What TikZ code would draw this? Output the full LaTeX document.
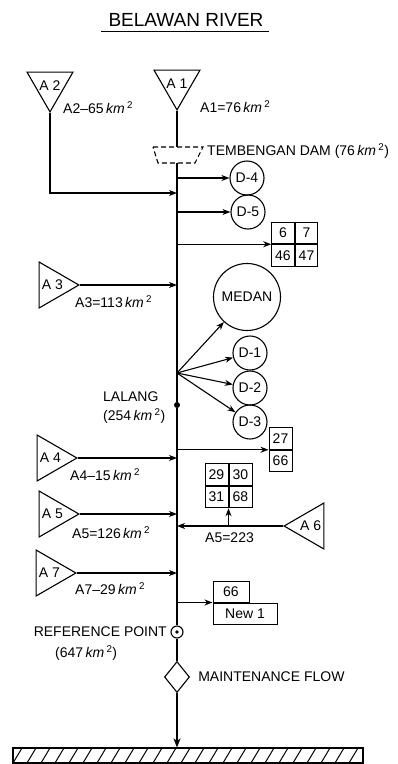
\documentclass[tikz,border=0pt]{standalone}
\usepackage{fontspec}
\setmainfont{Liberation Sans}
\usetikzlibrary{shapes.geometric, arrows.meta, positioning, calc}

\newcommand{\kmsq}{\textit{km}\,\textsuperscript{2}}

\begin{document}
\begin{tikzpicture}[
    x=1pt, y=-1pt,
    font=\fontsize{14}{16}\selectfont,
    node distance=0pt,
    basin/.style={draw=black, line width=1.1pt, regular polygon, regular polygon sides=3,
                  minimum size=53pt, inner sep=0pt, label={center:#1}},
    dnode/.style={draw=black, line width=1.1pt, circle, minimum size=34pt, inner sep=0pt},
    cell/.style={draw=black, line width=1pt, minimum width=22.5pt, minimum height=21.5pt,
                 inner sep=0pt},
    lbl/.style={inner sep=0pt, anchor=west},
    arr/.style={-{Stealth[length=8pt, width=6pt, inset=2.5pt]}, line width=1.1pt, black},
    river/.style={line width=1.8pt, black}
]
\useasboundingbox (0,0) rectangle (397,764);

% Titre
\node[inner sep=0pt, anchor=base, font=\fontsize{19}{21}\selectfont] (title) at (186,26) {BELAWAN RIVER};
\draw[line width=1pt] ([xshift=-7pt,yshift=-5pt]title.base west) -- ([xshift=5pt,yshift=-5pt]title.base east);

% Bassins versants
\node[basin=A 1, regular polygon rotate=180, anchor=corner 1] (a1) at (177,111) {};
\node[basin=A 2, regular polygon rotate=180, anchor=corner 1] (a2) at (50,113) {};
\node[basin=A 3, regular polygon rotate=-90, anchor=corner 1] (a3) at (80,285) {};
\node[basin=A 4, regular polygon rotate=-90, anchor=corner 1] (a4) at (78,458) {};
\node[basin=A 5, regular polygon rotate=-90, anchor=corner 1] (a5) at (80,514) {};
\node[basin=A 6, regular polygon rotate=90,  anchor=corner 1] (a6) at (283,526) {};
\node[basin=A 7, regular polygon rotate=-90, anchor=corner 1] (a7) at (77,573) {};

\node[lbl] at (200,107) {A1=76\,\kmsq};
\node[lbl] at (63,108)  {A2--65\,\kmsq};
\node[lbl] at (75,302)  {A3=113\,\kmsq};
\node[lbl] at (70,475)  {A4--15\,\kmsq};
\node[lbl] at (72,533)  {A5=126\,\kmsq};
\node[lbl] at (205,538) {A5=223};
\node[lbl] at (75,589)  {A7--29\,\kmsq};

% Barrage
\coordinate (damtop) at (177,147);
\coordinate (dambot) at (177,163);
\draw[line width=1.1pt, dash pattern=on 5pt off 3pt] (153,147) -- (203,147) -- (195,163) -- (158,163) -- cycle;
\node[lbl] at (207,151) {TEMBENGAN DAM (76\,\kmsq)};

% Points sur la riviere
\node[circle, fill=black, minimum size=6pt, inner sep=0pt] (lalang) at (177,405) {};
\node[inner sep=0pt, anchor=west, align=left, font=\fontsize{14}{19}\selectfont] at (103,408) {LALANG\\(254\,\kmsq)};
\coordinate (fan) at (177,373);
\coordinate (a2in) at (177,193);

\node[circle, draw=black, line width=1.1pt, minimum size=12pt, inner sep=0pt] (refpt) at (177,632) {};
\fill[black] (refpt.center) circle (1.8pt);
\node[inner sep=0pt, anchor=east] at (167,632) {REFERENCE POINT};
\node[lbl] at (55,653) {(647\,\kmsq)};

\node[diamond, draw=black, line width=1.1pt, minimum width=25pt, minimum height=31pt, inner sep=0pt] (flow) at (177,677) {};
\node[lbl, right=8pt of flow] {MAINTENANCE FLOW};

% Mer
\node[draw=black, line width=1.1pt, minimum width=350pt, minimum height=15pt, inner sep=0pt] (sea) at (188,755.5) {};
\begin{scope}
    \clip (sea.south west) rectangle (sea.north east);
    \foreach \hx in {13,27,...,370}
        \draw[line width=1pt] (\hx,763) -- (\hx+9,748);
\end{scope}

% Prises d'eau
\node[dnode] (d4) at (247,178) {D-4};
\node[dnode] (d5) at (248,212) {D-5};
\node[dnode, minimum size=67pt] (medan) at (247,297) {MEDAN};
\node[dnode] (d1) at (250,353) {D-1};
\node[dnode] (d2) at (250,388) {D-2};
\node[dnode] (d3) at (250,422) {D-3};

% Irrigation
\node[cell] (b6) at (283,233) {6};
\node[cell, right=of b6] (b7) {7};
\node[cell, below=of b6] (b46) {46};
\node[cell, below=of b7] (b47) {47};

\node[cell, minimum width=23pt] (b27) at (280.5,438.5) {27};
\node[cell, minimum width=23pt, below=of b27] (b66) {66};

\node[cell, minimum width=23pt] (b29) at (216.5,474.5) {29};
\node[cell, minimum width=23pt, right=of b29] (b30) {30};
\node[cell, minimum width=23pt, below=of b29] (b31) {31};
\node[cell, minimum width=23pt, right=of b31] (b68) {68};

\node[cell, minimum width=36pt, minimum height=21pt] (n66) at (231,591.5) {66};
\node[cell, minimum width=64pt, minimum height=21pt, anchor=north west] (new1) at (n66.south west) {New 1};

% Riviere principale
\draw[river] (a1.corner 1) -- (damtop);
\draw[river] (dambot) -- (lalang) -- (refpt.north);
\draw[river] (refpt.south) -- (flow.north);
\draw[river, -{Stealth[length=9pt, width=7pt, inset=2.5pt]}] (flow.south) -- (flow.south |- sea.north);

% Apports
\draw[arr] (a2.corner 1) |- (a2in);
\foreach \a in {a3, a4, a5, a7}
    \draw[arr] (\a.corner 1) -- (\a.corner 1 -| lalang);
\draw[arr] (a6.corner 1) -- (a6.corner 1 -| lalang);
\draw[arr] (b31.south east |- a6.corner 1) -- (b31.south east);

% Prelevements
\foreach \d in {d4, d5}
    \draw[arr] (\d -| lalang) -- (\d);
\foreach \d in {medan, d1, d2, d3}
    \draw[arr] (fan) -- (\d);
\draw[arr] (b46.north west -| lalang) -- (b46.north west);
\draw[arr] (b66.north west -| lalang) -- (b66.north west);
\draw[arr] (new1.north west -| lalang) -- (new1.north west);

\end{tikzpicture}
\end{document}
